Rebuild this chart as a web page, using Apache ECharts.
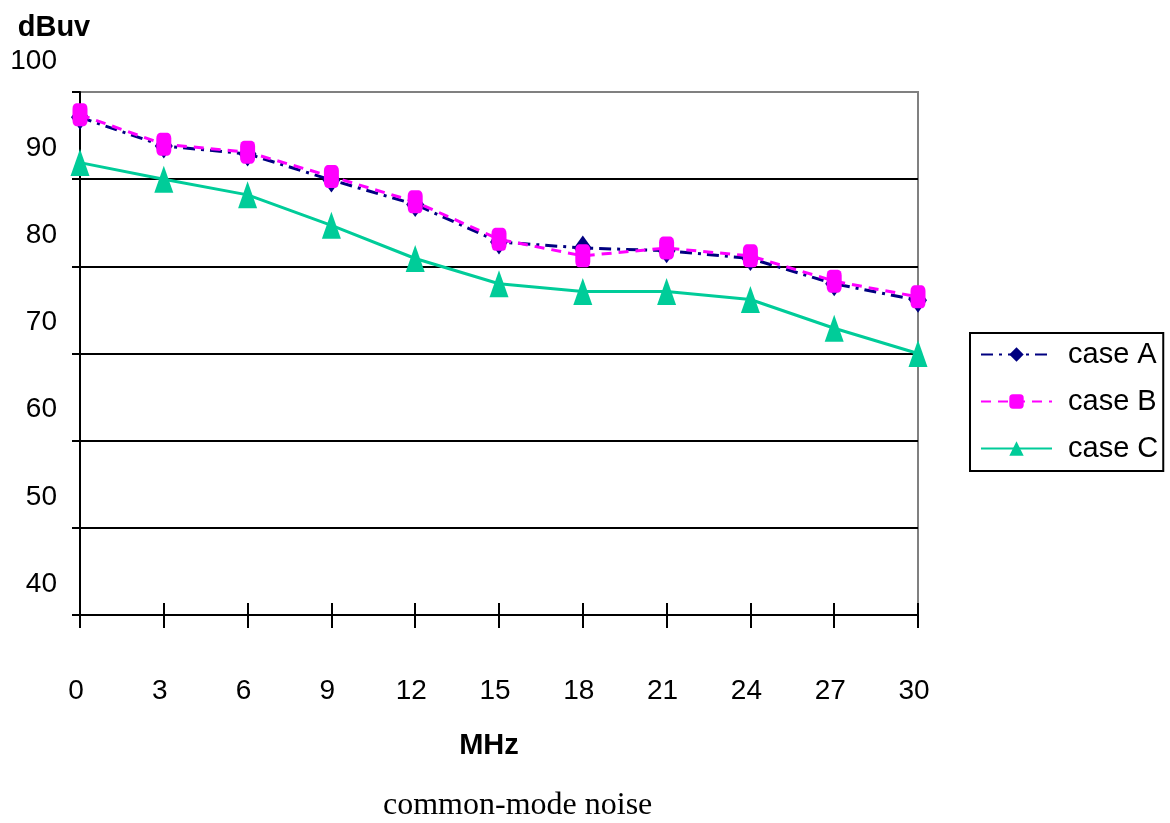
<!DOCTYPE html>
<html>
<head>
<meta charset="utf-8">
<title>common-mode noise</title>
<script src="https://cdn.jsdelivr.net/npm/echarts@6/dist/echarts.min.js"></script>
<style>
  html, body { margin: 0; padding: 0; background: #fff; }
  #chart { width: 1170px; height: 823px; }
</style>
</head>
<body>
<div id="chart"></div>
<script>
// Frequency points (MHz) and measured levels (dBuV) for each case
const freqMHz = [0, 3, 6, 9, 12, 15, 18, 21, 24, 27, 30];
const caseA = [97.1, 93.8, 92.9, 89.9, 87.1, 82.8, 82.1, 81.8, 80.9, 78.0, 76.1];
const caseB = [97.4, 94.0, 93.1, 90.3, 87.4, 83.1, 81.2, 82.1, 81.2, 78.3, 76.5];
const caseC = [91.9, 90.0, 88.2, 84.7, 80.9, 78.0, 77.1, 77.1, 76.2, 72.9, 70.0];
const seriesNames = ['case A', 'case B', 'case C'];

const SANS = '"Liberation Sans", Arial, sans-serif';
const SERIF = '"Liberation Serif", "Times New Roman", serif';

const pairs = vals => freqMHz.map((f, i) => [f, vals[i]]);

const chart = echarts.init(document.getElementById('chart'), null, { renderer: 'canvas' });

chart.setOption({
  animation: false,
  backgroundColor: '#ffffff',
  textStyle: { fontFamily: SANS },
  title: {
    text: 'common-mode noise',
    left: 383,
    top: 790,
    padding: 0,
    textStyle: { fontFamily: SERIF, fontWeight: 'normal', fontSize: 32, color: '#000', lineHeight: 32 }
  },
  grid: {
    left: 80, right: 252, top: 92, bottom: 208,
    show: true,
    borderColor: '#808080',
    borderWidth: 2,
    backgroundColor: 'transparent'
  },
  legend: {
    orient: 'vertical',
    left: 970,
    top: 333,
    padding: [7, 5, 8, 10],
    itemGap: 18,
    itemWidth: 71,
    itemHeight: 18,
    borderColor: '#000',
    borderWidth: 2,
    borderRadius: 0,
    textStyle: { fontFamily: SANS, fontSize: 29, color: '#000', lineHeight: 29, padding: [0, 0, 0, 11] },
    data: seriesNames
  },
  xAxis: [
    {
      type: 'value',
      min: 0, max: 30, interval: 3,
      name: 'MHz',
      nameLocation: 'middle',
      nameGap: 131,
      nameTextStyle: { fontFamily: SANS, fontWeight: 'bold', fontSize: 29, color: '#000', verticalAlign: 'middle', padding: [0, 20, 0, 0] },
      axisLine: { show: true, onZero: false, lineStyle: { color: '#000', width: 2 } },
      axisTick: { show: true, inside: false, length: 13, lineStyle: { color: '#000', width: 2 } },
      axisLabel: { fontFamily: SANS, fontSize: 28, color: '#000', margin: 62, lineHeight: 28, padding: [0, 8, 0, 0] },
      splitLine: { show: false }
    },
    {
      // inner half of the crossing tick marks on the frequency axis
      type: 'value',
      position: 'bottom',
      min: 0, max: 30, interval: 3,
      axisLine: { show: false },
      axisTick: { show: true, inside: true, length: 12, lineStyle: { color: '#000', width: 2 } },
      axisLabel: { show: false },
      splitLine: { show: false }
    }
  ],
  yAxis: {
    type: 'value',
    min: 40, max: 100, interval: 10,
    name: 'dBuv',
    nameLocation: 'end',
    nameGap: 64,
    nameTextStyle: { fontFamily: SANS, fontWeight: 'bold', fontSize: 29, color: '#000', align: 'center', verticalAlign: 'middle', padding: [0, 52, 0, 0] },
    axisLine: { show: true, onZero: false, lineStyle: { color: '#000', width: 2 } },
    axisTick: { show: true, inside: false, length: 8, lineStyle: { color: '#000', width: 2 } },
    axisLabel: { fontFamily: SANS, fontSize: 28, color: '#000', margin: 23, verticalAlign: 'bottom', lineHeight: 28, padding: [0, 0, 17, 0] },
    splitLine: { show: true, showMinLine: false, showMaxLine: false, lineStyle: { color: '#000', width: 2 } }
  },
  series: [
    {
      name: 'case A',
      type: 'line',
      data: pairs(caseA),
      symbol: 'diamond',
      symbolSize: [18, 25],
      color: '#000080',
      itemStyle: { color: '#000080' },
      lineStyle: { color: '#000080', width: 3, type: [12, 6, 3, 6] },
      z: 2
    },
    {
      name: 'case B',
      type: 'line',
      data: pairs(caseB),
      symbol: 'roundRect',
      symbolSize: [15, 23],
      color: '#ff00ff',
      itemStyle: { color: '#ff00ff' },
      lineStyle: { color: '#ff00ff', width: 3, type: [10, 7] },
      z: 3
    },
    {
      name: 'case C',
      type: 'line',
      data: pairs(caseC),
      symbol: 'triangle',
      symbolSize: [19, 27],
      color: '#00cc99',
      itemStyle: { color: '#00cc99' },
      lineStyle: { color: '#00cc99', width: 3, type: 'solid' },
      z: 4
    }
  ]
});
</script>
</body>
</html>
